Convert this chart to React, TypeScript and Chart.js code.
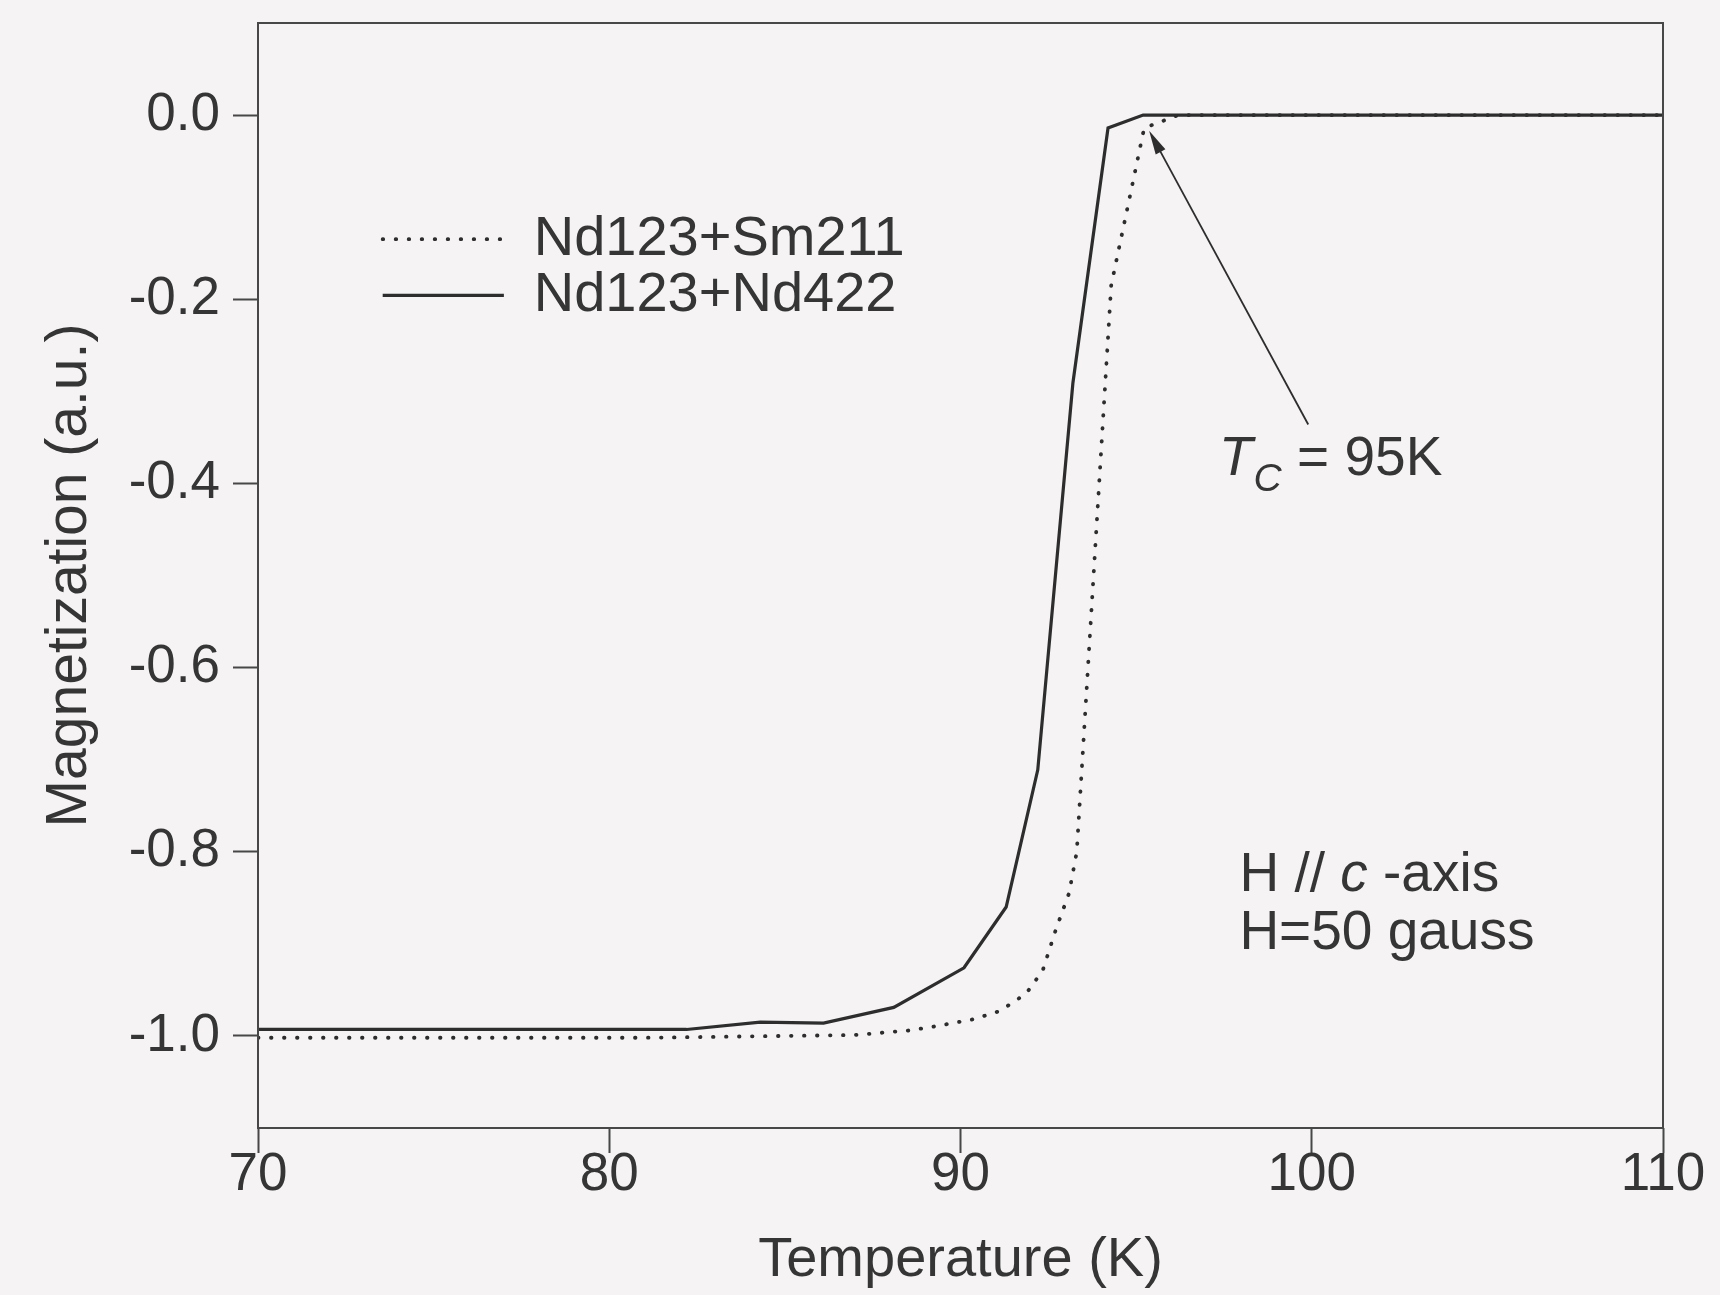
import React, { useEffect, useRef } from "react";
import { Chart, registerables } from "chart.js";

Chart.register(...registerables);

const FONT_FAMILY = "'Liberation Sans', Arial, Helvetica, sans-serif";
const INK = "#353535";
const LINE = "#2d2d2d";
const PAPER = "#f5f3f4";

const CANVAS_W = 1720;
const CANVAS_H = 1295;

// Axis ranges and tick values
const tempMin = 70;
const tempMax = 110;
const magMin = -1.1;
const magMax = 0.1;
const tempTicks = [70, 80, 90, 100, 110];
const magTicks = [0.0, -0.2, -0.4, -0.6, -0.8, -1.0];

// Nd123+Sm211 (dotted curve)
const smLabel = "Nd123+Sm211";
const smTemp = [70, 81, 87, 88.56, 89.22, 90.36, 91.12, 91.87, 92.34, 92.71, 93.09, 93.31, 94.29, 95.23, 96.2, 110];
const smMag = [-1.002, -1.002, -0.999, -0.994, -0.99, -0.982, -0.973, -0.954, -0.929, -0.885, -0.845, -0.8, -0.185, -0.014, 0.0, 0.0];

// Nd123+Nd422 (solid curve)
const ndLabel = "Nd123+Nd422";
const ndTemp = [70, 82.2, 84.3, 86.1, 88.1, 90.1, 91.3, 92.2, 93.2, 94.2, 95.2, 110];
const ndMag = [-0.993, -0.993, -0.985, -0.986, -0.969, -0.926, -0.86, -0.711, -0.291, -0.014, 0.0, 0.0];

// Critical temperature note and arrow (positions in K / a.u.)
const tcKelvin = 95;
const tcArrowFrom = [99.9, -0.336];
const tcArrowTo = [95.37, -0.017];
const tcLabelAt = [97.36, -0.391];

// Measurement conditions note
const fieldNoteAt = [97.94, -0.843];
const fieldNoteStep = -0.063;
const fieldGauss = 50;

// Key placement: sample start, sample end, text start (K); first row and row step (a.u.)
const keySampleFrom = 73.55;
const keySampleTo = 77.0;
const keyTextAt = 77.85;
const keyFirstRow = -0.1348;
const keyRowStep = -0.061;

const paperPlugin = {
  id: "paper",
  beforeDraw(chart: any) {
    const { ctx, width, height } = chart;
    ctx.save();
    ctx.fillStyle = PAPER;
    ctx.fillRect(0, 0, width, height);
    ctx.restore();
  },
};

const framePlugin = {
  id: "frame",
  afterDatasetsDraw(chart: any) {
    const { ctx, chartArea } = chart;
    ctx.save();
    ctx.strokeStyle = "#474747";
    ctx.lineWidth = 2;
    ctx.strokeRect(chartArea.left, chartArea.top, chartArea.right - chartArea.left, chartArea.bottom - chartArea.top);
    ctx.restore();
  },
};

const keyPlugin = {
  id: "key",
  afterDatasetsDraw(chart: any) {
    const { ctx } = chart;
    const xs = chart.scales.x;
    const ys = chart.scales.y;
    ctx.save();
    chart.data.datasets.forEach((ds: any, i: number) => {
      const yy = ys.getPixelForValue(keyFirstRow + i * keyRowStep);
      ctx.beginPath();
      ctx.strokeStyle = ds.borderColor;
      ctx.lineWidth = ds.borderWidth;
      ctx.lineCap = ds.borderCapStyle || "butt";
      ctx.setLineDash(ds.borderDash || []);
      ctx.moveTo(xs.getPixelForValue(keySampleFrom), yy);
      ctx.lineTo(xs.getPixelForValue(keySampleTo), yy);
      ctx.stroke();
      ctx.setLineDash([]);
      ctx.fillStyle = INK;
      ctx.font = `56px ${FONT_FAMILY}`;
      ctx.textAlign = "left";
      ctx.textBaseline = "middle";
      ctx.fillText(ds.label, xs.getPixelForValue(keyTextAt), yy);
    });
    ctx.restore();
  },
};

const notesPlugin = {
  id: "notes",
  afterDatasetsDraw(chart: any) {
    const { ctx } = chart;
    const xs = chart.scales.x;
    const ys = chart.scales.y;
    const px = (t: number) => xs.getPixelForValue(t);
    const py = (m: number) => ys.getPixelForValue(m);
    ctx.save();

    // Arrow pointing at the onset of the transition
    const x0 = px(tcArrowFrom[0]);
    const y0 = py(tcArrowFrom[1]);
    const x1 = px(tcArrowTo[0]);
    const y1 = py(tcArrowTo[1]);
    const ang = Math.atan2(y1 - y0, x1 - x0);
    const headLen = 24;
    const headHalf = 5.5;
    ctx.strokeStyle = LINE;
    ctx.lineWidth = 1.8;
    ctx.beginPath();
    ctx.moveTo(x0, y0);
    ctx.lineTo(x1 - headLen * 0.6 * Math.cos(ang), y1 - headLen * 0.6 * Math.sin(ang));
    ctx.stroke();
    ctx.fillStyle = LINE;
    ctx.beginPath();
    ctx.moveTo(x1, y1);
    ctx.lineTo(x1 - headLen * Math.cos(ang) + headHalf * Math.sin(ang), y1 - headLen * Math.sin(ang) - headHalf * Math.cos(ang));
    ctx.lineTo(x1 - headLen * Math.cos(ang) - headHalf * Math.sin(ang), y1 - headLen * Math.sin(ang) + headHalf * Math.cos(ang));
    ctx.closePath();
    ctx.fill();

    // T_C = 95K
    ctx.fillStyle = INK;
    ctx.textAlign = "left";
    ctx.textBaseline = "alphabetic";
    let cx = px(tcLabelAt[0]);
    const by = py(tcLabelAt[1]);
    ctx.font = `italic 55px ${FONT_FAMILY}`;
    ctx.fillText("T", cx, by);
    cx += ctx.measureText("T").width + 1;
    ctx.font = `italic 39px ${FONT_FAMILY}`;
    ctx.fillText("C", cx, by + 16);
    cx += ctx.measureText("C").width;
    ctx.font = `55px ${FONT_FAMILY}`;
    ctx.fillText(` = ${tcKelvin}K`, cx, by);

    // H // c-axis, H = 50 gauss
    let hx = px(fieldNoteAt[0]);
    const hy1 = py(fieldNoteAt[1]);
    const hy2 = py(fieldNoteAt[1] + fieldNoteStep);
    ctx.font = `55px ${FONT_FAMILY}`;
    ctx.fillText("H // ", hx, hy1);
    hx += ctx.measureText("H // ").width;
    ctx.font = `italic 55px ${FONT_FAMILY}`;
    ctx.fillText("c", hx, hy1);
    hx += ctx.measureText("c").width;
    ctx.font = `55px ${FONT_FAMILY}`;
    ctx.fillText(" -axis", hx, hy1);
    ctx.fillText(`H=${fieldGauss} gauss`, px(fieldNoteAt[0]), hy2);

    ctx.restore();
  },
};

export default function App() {
  const canvasRef = useRef<HTMLCanvasElement>(null);

  useEffect(() => {
    const canvas = canvasRef.current;
    if (!canvas) return;

    const chart = new Chart(canvas, {
      type: "scatter",
      data: {
        datasets: [
          {
            label: smLabel,
            data: smTemp.map((t, i) => ({ x: t, y: smMag[i] })),
            showLine: true,
            borderColor: LINE,
            borderWidth: 3.8,
            borderDash: [0.5, 12.5],
            borderCapStyle: "round",
            pointRadius: 0,
            fill: false,
            tension: 0,
          },
          {
            label: ndLabel,
            data: ndTemp.map((t, i) => ({ x: t, y: ndMag[i] })),
            showLine: true,
            borderColor: LINE,
            borderWidth: 3.2,
            borderDash: [],
            borderCapStyle: "butt",
            pointRadius: 0,
            fill: false,
            tension: 0,
          },
        ],
      },
      options: {
        responsive: false,
        animation: false,
        devicePixelRatio: 1,
        layout: { padding: { left: 0, top: 23, right: 57, bottom: 0 } },
        plugins: {
          legend: { display: false },
          tooltip: { enabled: false },
        },
        scales: {
          x: {
            type: "linear",
            min: tempMin,
            max: tempMax,
            afterBuildTicks: (scale: any) => {
              scale.ticks = tempTicks.map((v) => ({ value: v }));
            },
            afterFit: (scale: any) => {
              scale.height = 167;
              scale.paddingLeft = 0;
              scale.paddingRight = 0;
            },
            border: { display: false },
            grid: {
              drawOnChartArea: false,
              drawTicks: true,
              tickLength: 25,
              tickWidth: 2,
              tickColor: "#474747",
            },
            ticks: {
              color: INK,
              font: { family: FONT_FAMILY, size: 53 },
              padding: -9,
              maxRotation: 0,
              autoSkip: false,
              callback: (v: any) => String(v),
            },
            title: {
              display: true,
              text: "Temperature (K)",
              color: INK,
              font: { family: FONT_FAMILY, size: 56 },
              padding: { top: 0, bottom: 1 },
            },
          },
          y: {
            type: "linear",
            min: magMin,
            max: magMax,
            afterBuildTicks: (scale: any) => {
              scale.ticks = magTicks.map((v) => ({ value: v }));
            },
            afterFit: (scale: any) => {
              scale.width = 258;
              scale.paddingTop = 0;
              scale.paddingBottom = 0;
            },
            border: { display: false },
            grid: {
              drawOnChartArea: false,
              drawTicks: true,
              tickLength: 25,
              tickWidth: 2,
              tickColor: "#474747",
            },
            ticks: {
              color: INK,
              font: { family: FONT_FAMILY, size: 53 },
              padding: 13,
              autoSkip: false,
              callback: (v: any) => Number(v).toFixed(1),
            },
            title: {
              display: true,
              text: "Magnetization (a.u.)",
              color: INK,
              font: { family: FONT_FAMILY, size: 57 },
              padding: { top: 36, bottom: 0 },
            },
          },
        },
      } as any,
      plugins: [paperPlugin, framePlugin, keyPlugin, notesPlugin],
    });

    return () => chart.destroy();
  }, []);

  return (
    <div
      style={{
        position: "fixed",
        left: 0,
        top: 0,
        width: CANVAS_W,
        height: CANVAS_H,
        background: PAPER,
      }}
    >
      <canvas ref={canvasRef} width={CANVAS_W} height={CANVAS_H} style={{ display: "block" }} />
    </div>
  );
}
